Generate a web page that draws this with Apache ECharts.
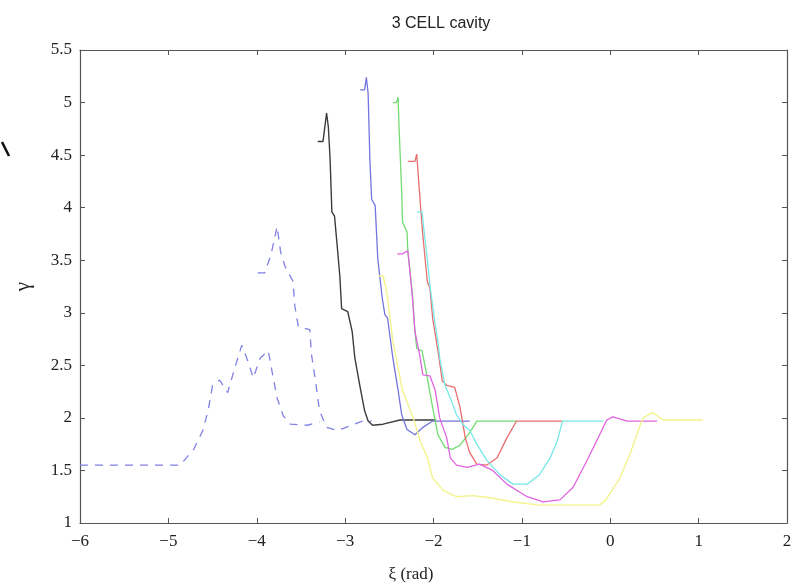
<!DOCTYPE html>
<html>
<head>
<meta charset="utf-8">
<script src="https://cdn.jsdelivr.net/npm/echarts@6/dist/echarts.min.js"></script>
<style>
  html, body { margin: 0; padding: 0; background: #fff; }
  #chart { width: 800px; height: 588px; }
</style>
</head>
<body>
<div id="chart"></div>
<script>
// Axis ticks
const xTicks = [-6, -5, -4, -3, -2, -1, 0, 1, 2];
const yTicks = [1, 1.5, 2, 2.5, 3, 3.5, 4, 4.5, 5, 5.5];

// Dashed trajectory: low branch rising from the left, and the spike that falls back to the plateau
const dashLow = [
  [-6, 1.55], [-4.87, 1.55], [-4.72, 1.69], [-4.61, 1.88], [-4.55, 2.07], [-4.50, 2.31],
  [-4.42, 2.36], [-4.33, 2.24], [-4.25, 2.47], [-4.17, 2.69], [-4.10, 2.54], [-4.04, 2.38],
  [-3.96, 2.57], [-3.87, 2.64], [-3.82, 2.41], [-3.77, 2.19], [-3.70, 2.02], [-3.62, 1.94],
  [-3.43, 1.93], [-3.29, 1.96]
];
const dashSpike = [
  [-3.99, 3.38], [-3.91, 3.38], [-3.84, 3.55], [-3.77, 3.82], [-3.73, 3.58], [-3.68, 3.44],
  [-3.59, 3.30], [-3.57, 3.07], [-3.53, 2.87], [-3.40, 2.84], [-3.38, 2.60], [-3.34, 2.38],
  [-3.29, 2.07], [-3.21, 1.91], [-3.09, 1.88], [-3.02, 1.90], [-2.80, 1.97], [-2.70, 1.97]
];

// Solid trajectories
const black = [
  [-3.31, 4.63], [-3.25, 4.63], [-3.21, 4.90], [-3.19, 4.77], [-3.17, 4.46], [-3.15, 3.96],
  [-3.12, 3.92], [-3.09, 3.64], [-3.06, 3.35], [-3.04, 3.04], [-2.97, 3.01], [-2.92, 2.82],
  [-2.89, 2.57], [-2.83, 2.29], [-2.78, 2.07], [-2.74, 1.97], [-2.69, 1.93], [-2.57, 1.94],
  [-2.38, 1.98], [-1.97, 1.98]
];
const blue = [
  [-2.83, 5.12], [-2.78, 5.12], [-2.76, 5.24], [-2.74, 5.09], [-2.72, 4.46], [-2.70, 4.08],
  [-2.66, 4.02], [-2.63, 3.51], [-2.58, 3.14], [-2.55, 2.98], [-2.52, 2.95], [-2.46, 2.57],
  [-2.40, 2.26], [-2.36, 2.03], [-2.30, 1.89], [-2.21, 1.84], [-2.12, 1.91], [-2.01, 1.97],
  [-1.59, 1.97]
];
const green = [
  [-2.46, 5.00], [-2.42, 5.00], [-2.40, 5.05], [-2.39, 4.77], [-2.36, 4.15], [-2.35, 3.86],
  [-2.30, 3.77], [-2.29, 3.58], [-2.24, 3.20], [-2.21, 2.82], [-2.19, 2.66], [-2.13, 2.64],
  [-2.07, 2.38], [-2.01, 2.10], [-1.95, 1.84], [-1.87, 1.72], [-1.79, 1.70], [-1.70, 1.74],
  [-1.59, 1.86], [-1.51, 1.97], [-1.06, 1.97]
];
const red = [
  [-2.29, 4.44], [-2.21, 4.44], [-2.19, 4.51], [-2.15, 4.05], [-2.12, 3.73], [-2.07, 3.30],
  [-2.04, 3.23], [-2.01, 2.95], [-1.95, 2.64], [-1.90, 2.35], [-1.85, 2.31], [-1.76, 2.29],
  [-1.70, 2.10], [-1.64, 1.81], [-1.59, 1.67], [-1.51, 1.56], [-1.40, 1.55], [-1.28, 1.62],
  [-1.17, 1.81], [-1.06, 1.97], [-0.54, 1.97]
];
const magenta = [
  [-2.41, 3.56], [-2.35, 3.56], [-2.29, 3.59], [-2.24, 3.16], [-2.21, 2.82], [-2.15, 2.57],
  [-2.12, 2.41], [-2.04, 2.40], [-1.98, 2.26], [-1.93, 2.00], [-1.85, 1.81], [-1.81, 1.62],
  [-1.74, 1.55], [-1.62, 1.53], [-1.48, 1.56], [-1.33, 1.50], [-1.17, 1.37], [-0.94, 1.25],
  [-0.76, 1.20], [-0.57, 1.22], [-0.42, 1.34], [-0.26, 1.60], [-0.12, 1.84], [-0.04, 1.98],
  [0.03, 2.01], [0.19, 1.97], [0.53, 1.97]
];
const cyan = [
  [-2.19, 3.96], [-2.13, 3.96], [-2.11, 3.80], [-2.07, 3.51], [-2.04, 3.26], [-1.98, 2.88],
  [-1.95, 2.73], [-1.93, 2.57], [-1.87, 2.31], [-1.81, 2.19], [-1.74, 2.03], [-1.67, 1.94],
  [-1.59, 1.88], [-1.51, 1.75], [-1.40, 1.60], [-1.25, 1.46], [-1.10, 1.37], [-0.94, 1.37],
  [-0.80, 1.46], [-0.68, 1.62], [-0.60, 1.78], [-0.54, 1.97], [-0.08, 1.97]
];
const yellow = [
  [-2.62, 3.35], [-2.57, 3.35], [-2.53, 3.20], [-2.46, 2.73], [-2.35, 2.26], [-2.23, 2.00],
  [-2.15, 1.78], [-2.07, 1.62], [-2.01, 1.43], [-1.89, 1.31], [-1.74, 1.25], [-1.55, 1.26],
  [-1.36, 1.24], [-1.10, 1.20], [-0.80, 1.17], [-0.12, 1.17], [-0.05, 1.22], [0.11, 1.43],
  [0.22, 1.65], [0.30, 1.84], [0.37, 2.00], [0.48, 2.05], [0.60, 1.98], [1.05, 1.98]
];

const serif = 'Liberation Serif, Times New Roman, serif';
const axisGray = '#555';

function fmtTick(v) {
  const t = xTicks.concat(yTicks).find(k => Math.abs(k - v) < 1e-9);
  const s = String(t !== undefined ? t : v);
  return s.replace('-', '\u2212');
}

function line(data, color, width, dashed) {
  return {
    type: 'line',
    data: data,
    showSymbol: false,
    symbol: 'none',
    silent: true,
    lineStyle: { color: color, width: width, type: dashed ? [8, 7] : 'solid' }
  };
}

const boxAxis = {
  axisLine: { show: true, onZero: false, lineStyle: { color: axisGray, width: 1.2 } },
  axisTick: { show: true, inside: true, length: 5, lineStyle: { color: axisGray } },
  splitLine: { show: false }
};

const chart = echarts.init(document.getElementById('chart'), null, { renderer: 'canvas' });
chart.setOption({
  animation: false,
  backgroundColor: '#fff',
  title: {
    text: '3 CELL cavity',
    left: 436,
    textAlign: 'center',
    top: 11,
    textStyle: { fontFamily: 'Liberation Sans, Arial, sans-serif', fontSize: 16, fontWeight: 'normal', color: '#222' }
  },
  grid: { left: 80, right: 13, top: 50, bottom: 62 },
  xAxis: [
    Object.assign({
      type: 'value', min: xTicks[0], max: xTicks[xTicks.length - 1], interval: 1,
      position: 'bottom',
      name: '\u03BE (rad)', nameLocation: 'middle', nameGap: 43,
      nameTextStyle: { fontFamily: serif, fontSize: 17, color: '#222', padding: [0, 45, 0, 0] },
      axisLabel: { fontFamily: serif, fontSize: 17, color: '#222', margin: 10, formatter: fmtTick }
    }, boxAxis),
    Object.assign({
      type: 'value', min: xTicks[0], max: xTicks[xTicks.length - 1], interval: 1,
      position: 'top', axisLabel: { show: false }
    }, boxAxis)
  ],
  yAxis: [
    Object.assign({
      type: 'value', min: yTicks[0], max: yTicks[yTicks.length - 1], interval: 0.5,
      position: 'left',
      name: '\u03B3', nameLocation: 'middle', nameGap: 46, nameRotate: 90,
      nameTextStyle: { fontFamily: serif, fontSize: 21, color: '#222' },
      axisLabel: { fontFamily: serif, fontSize: 17, color: '#222', margin: 8, formatter: fmtTick }
    }, boxAxis),
    Object.assign({
      type: 'value', min: yTicks[0], max: yTicks[yTicks.length - 1], interval: 0.5,
      position: 'right', axisLabel: { show: false }
    }, boxAxis)
  ],
  series: [
    line(dashLow, '#8080e6', 1.3, true),
    line(dashSpike, '#8080e6', 1.3, true),
    line(black, '#3c3c3c', 1.4, false),
    line(blue, '#7474e0', 1.3, false),
    line(green, '#72dc72', 1.3, false),
    line(red, '#e86e6e', 1.3, false),
    line(magenta, '#e064e0', 1.3, false),
    line(cyan, '#78e8e8', 1.3, false),
    line(yellow, '#f3f38e', 1.4, false)
  ],
  graphic: [
    {
      type: 'line',
      shape: { x1: 2, y1: 142, x2: 9, y2: 156 },
      style: { stroke: '#111', lineWidth: 2.5 }
    }
  ]
});
</script>
</body>
</html>
